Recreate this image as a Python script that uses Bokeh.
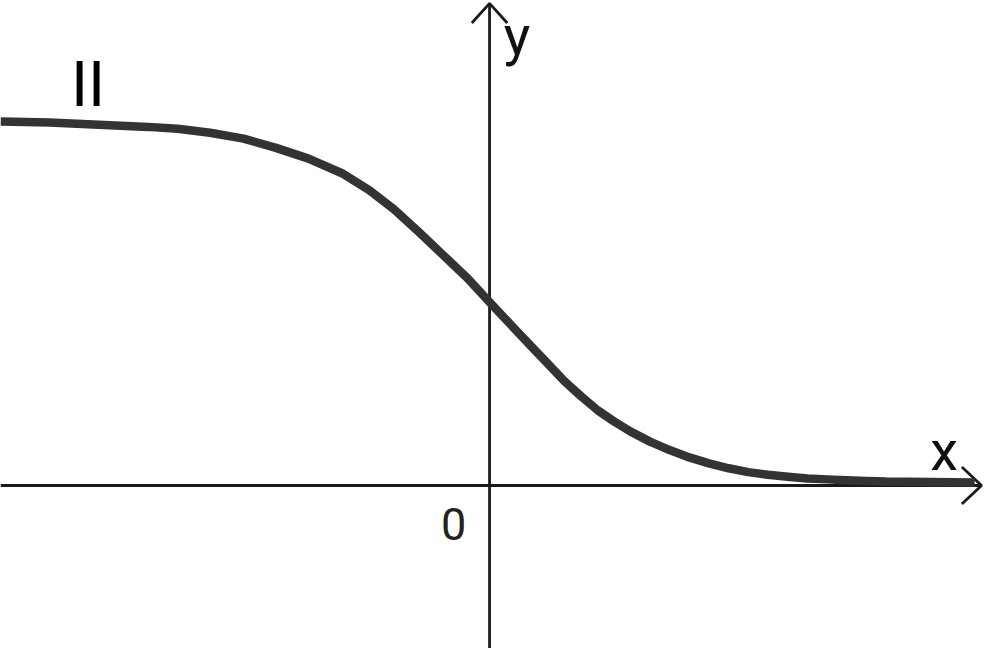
from bokeh.plotting import figure
from bokeh.models import Range1d
from bokeh.core.properties import value
from bokeh.embed import file_html
from bokeh.resources import INLINE

# Curve (x, y in axis units)
curve_x = [-4.97, -4.47, -3.97, -3.47, -3.17, -2.84, -2.50, -2.17, -1.84, -1.50, -1.22,
           -0.97, -0.72, -0.47, -0.22, 0.00, 0.26, 0.43, 0.60, 0.76, 0.93, 1.10, 1.26,
           1.43, 1.63, 1.83, 2.03, 2.23, 2.43, 2.63, 2.83, 3.03, 3.23, 3.43, 3.63,
           3.83, 4.03, 4.93]
curve_y = [3.73, 3.72, 3.697, 3.675, 3.655, 3.615, 3.555, 3.46, 3.35, 3.20, 3.025,
           2.83, 2.60, 2.36, 2.12, 1.88, 1.60, 1.42, 1.24, 1.07, 0.915, 0.77, 0.66,
           0.555, 0.45, 0.363, 0.288, 0.227, 0.177, 0.137, 0.11, 0.09, 0.073, 0.063, 0.053,
           0.047, 0.04, 0.03]

x_min, x_max = -4.97, 5.03
y_min, y_max = -1.67, 4.97
x_tip, y_tip = 5.00, 4.94

label_y = "y"
label_x = "x"
label_origin = "0"
label_curve = "II"

p = figure(width=984, height=648, output_backend="svg", toolbar_location=None,
           x_range=Range1d(x_min, x_max), y_range=Range1d(y_min, y_max),
           min_border=0, background_fill_color="white", border_fill_color="white")
p.axis.visible = False
p.grid.visible = False
p.outline_line_color = None

axis_col = "#1a1a1a"
# axes
p.segment(x0=[x_min, 0], y0=[0, y_min], x1=[x_tip, 0], y1=[0, y_tip],
          line_color=axis_col, line_width=2.8)
# arrow heads
p.line(x=[-0.18, 0, 0.18], y=[y_tip - 0.20, y_tip, y_tip - 0.20],
       line_color=axis_col, line_width=2.8)
p.line(x=[x_tip - 0.20, x_tip, x_tip - 0.20], y=[0.19, 0, -0.19],
       line_color=axis_col, line_width=2.8)

# curve
p.line(x=curve_x, y=curve_y, line_color="#333333", line_width=8.5, line_join="round")

# labels
p.text(x=[0.28], y=[4.61], text=[label_y], text_font=value("Roboto"),
       text_font_size="56px", text_align="center", text_baseline="alphabetic",
       text_color="#111111")
p.text(x=[4.62], y=[0.35], text=[label_x], text_font=value("Roboto"),
       text_font_size="56px", text_align="center", text_baseline="alphabetic",
       text_color="#111111")
p.text(x=[-0.365], y=[-0.39], text=[label_origin], text_font=value("Roboto"),
       text_font_size="45px", text_align="center", text_baseline="alphabetic",
       text_color="#222222")
p.text(x=[-4.08], y=[4.11], text=[label_curve], text_font=value("Roboto"),
       text_font_size="63px", text_align="center", text_baseline="alphabetic",
       text_color="#000000")

open("out.html", "w").write(file_html(p, INLINE))
